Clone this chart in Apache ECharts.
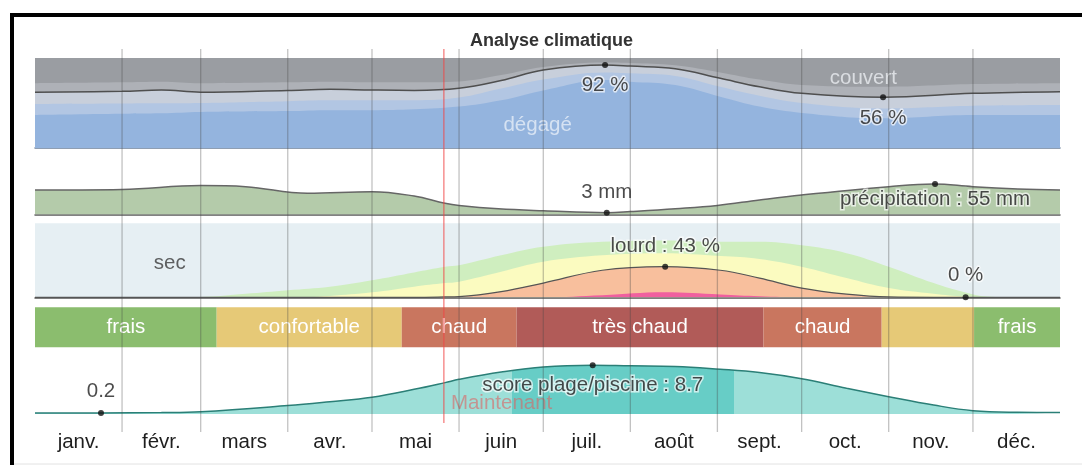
<!DOCTYPE html>
<html>
<head>
<meta charset="utf-8">
<title>Analyse climatique</title>
<script src="https://cdn.jsdelivr.net/npm/echarts@6/dist/echarts.min.js"></script>
<style>html,body{margin:0;padding:0;background:#fff;}</style>
</head>
<body>
<div id="main" style="width:1082px;height:465px;"></div>
<script>
// jours de l'année (0 = 1er janvier, 365 = 31 décembre)
var monthEnds = [31, 59, 90, 120, 151, 181, 212, 243, 273, 304, 334];
var monthMids = [15.5, 45, 74.5, 105, 135.5, 166, 196.5, 227.5, 258, 288.5, 319, 349.5];
var monthNames = ['janv.', 'févr.', 'mars', 'avr.', 'mai', 'juin', 'juil.', 'août', 'sept.', 'oct.', 'nov.', 'déc.'];
var today = 145.6;

// couverture nuageuse, parts cumulées depuis le bas (%)
var cloudDays     = [0, 31, 45, 59, 90, 105, 120, 135, 151, 166, 181, 203, 212, 228, 244, 258, 273, 302, 334, 365];
var clearPct      = [36.7, 38, 38.5, 40, 41, 42, 42, 43, 46, 53, 64, 75.6, 73.7, 70, 57, 46, 39, 33, 36.7, 36.7];
var mostlyClear   = [49, 49.5, 49.7, 50, 52, 53, 53, 53, 56, 66, 76, 84, 83, 80, 68, 58, 50, 44, 47, 47.8];
var partlyCloudy  = [62, 63, 64.4, 62, 64, 65.2, 64.4, 64, 66.3, 75, 86.7, 92.2, 91, 88, 77.4, 68, 60.7, 56.3, 60.7, 62.6];
var mostlyCloudy  = [72, 73, 73.7, 72, 73, 73.7, 73, 73, 74, 81, 90, 95, 94.5, 92, 84, 76, 70, 68, 71, 72];

// précipitations (mm)
var precipDays = [0, 31, 59, 75, 97, 120, 135, 146, 151, 165, 181, 204, 212, 228, 243, 258, 273, 304, 320, 334, 350, 365];
var precipMm   = [44, 45, 52, 50, 38, 41, 33, 20, 16, 10, 6.5, 3, 5, 10, 16, 26, 35, 50, 55, 50, 46, 44];

// humidité, parts cumulées depuis le bas (%)
var humDays    = [0, 59, 75, 90, 105, 120, 135, 146, 151, 166, 181, 202, 224, 244, 258, 273, 289, 304, 320, 331, 339, 350, 365];
var humMuggy   = [0, 0.5, 5, 10, 15, 24, 35, 43, 45, 59, 71, 78, 80, 78, 78, 73, 62, 43, 20, 7, 1, 0, 0];
var humHumid   = [0, 0, 0, 0, 2, 7, 15, 20, 22, 36, 50, 59, 62, 58, 54, 43, 27, 13, 5, 1, 0, 0, 0];
var humHeavy   = [0, 0, 0, 0, 0, 0, 0, 0.5, 1, 8, 20, 38, 43, 38, 27, 13, 4.5, 0.5, 0, 0, 0, 0, 0];
var humMisery  = [0, 0, 0, 0, 0, 0, 0, 0, 0, 0, 0, 3, 7, 4, 1.5, 0, 0, 0, 0, 0, 0, 0, 0];

// température ressentie
var tempStart = [0, 64.7, 130.6, 171.5, 259.4, 301.5, 334.4];
var tempEnd   = [64.7, 130.6, 171.5, 259.4, 301.5, 334.4, 365];
var tempCats  = ['frais', 'confortable', 'chaud', 'très chaud', 'chaud', 'confortable', 'frais'];

// score plage/piscine (0-10)
var scoreDays = [0, 23.5, 45, 59, 90, 105, 120, 135, 146, 151, 166, 181, 198.6, 212, 228, 244, 258, 273, 289, 304, 320, 334, 350, 365];
var score     = [0.2, 0.2, 0.25, 0.4, 1.5, 2.2, 3.0, 4.4, 5.6, 6.2, 7.5, 8.4, 8.7, 8.6, 8.5, 8.0, 7.4, 6.3, 4.6, 3.1, 1.6, 0.6, 0.3, 0.25];
var bestPeriod = [169.7, 249];

var FONT = '"Liberation Sans", Arial, sans-serif';
var FS = 20.5;
var tempColors = {'frais': '#8bbd6e', 'confortable': '#e6c977', 'chaud': '#c9765f', 'très chaud': '#b15b58'};

function zip(xs, ys) { return xs.map(function (x, i) { return [x, ys[i]]; }); }

// largeur d'un texte, pour ne l'afficher que s'il tient dans sa bande
var measureCtx = document.createElement('canvas').getContext('2d');
function textWidth(t) {
  measureCtx.font = FS + 'px ' + FONT;
  return measureCtx.measureText(t).width;
}

var chart = echarts.init(document.getElementById('main'));

var grids = [
  {left: 35, right: 22, top: 58, height: 90, show: true, backgroundColor: '#9a9da2', borderWidth: 0},
  {left: 35, right: 22, top: 169, height: 45.3},
  {left: 35, right: 22, top: 223.3, height: 74, show: true, backgroundColor: '#e6eff3', borderWidth: 0},
  {left: 35, right: 22, top: 307.3, height: 40},
  {left: 35, right: 22, top: 358, height: 56},
  {left: 35, right: 22, top: 49, height: 383},
  {left: 35, right: 22, top: 49, height: 374}
];
var yMax = [100, 82, 104, 1, 10, 1, 1];

var xAxes = grids.map(function (g, i) {
  return {type: 'value', gridIndex: i, min: 0, max: 365, show: false,
          axisLabel: {show: false}, axisTick: {show: false}, splitLine: {show: false}};
});
xAxes[0].show = true; xAxes[0].axisLine = {lineStyle: {color: '#6b7f99', width: 1.5}};
xAxes[1].show = true; xAxes[1].axisLine = {lineStyle: {color: '#5a5a5a', width: 1.5}};
xAxes[2].show = true; xAxes[2].axisLine = {lineStyle: {color: '#555', width: 1.5}};
xAxes[4].show = true;
xAxes[4].axisLine = {show: false};
xAxes[4].axisLabel = {
  show: true, customValues: monthMids, margin: 18,
  fontFamily: FONT, fontSize: FS, color: '#1e1e1e',
  formatter: function (v) { var i = monthMids.indexOf(v); return i >= 0 ? monthNames[i] : ''; }
};

var yAxes = grids.map(function (g, i) {
  return {type: 'value', gridIndex: i, min: 0, max: yMax[i], show: false, splitLine: {show: false}};
});

var labelStyle = {fontFamily: FONT, fontSize: FS, color: '#1e1e1e',
                  textBorderColor: 'rgba(255,255,255,0.85)', textBorderWidth: 3};

var series = [];
function area(grid, days, vals, color, z) {
  series.push({type: 'line', xAxisIndex: grid, yAxisIndex: grid, data: zip(days, vals),
    smooth: 0.4, symbol: 'none', lineStyle: {width: 0}, areaStyle: {color: color, opacity: 1},
    silent: true, z: z || 2});
}
function curve(grid, days, vals, color, width) {
  series.push({type: 'line', xAxisIndex: grid, yAxisIndex: grid, data: zip(days, vals),
    smooth: 0.4, symbol: 'none', lineStyle: {color: color, width: width}, silent: true, z: 4});
}
function mark(grid, pt, text, pos, dist) {
  series.push({type: 'scatter', xAxisIndex: grid, yAxisIndex: grid, data: [pt],
    symbolSize: 6, itemStyle: {color: '#111'}, z: 6,
    label: Object.assign({show: true, position: pos, distance: dist, formatter: text}, labelStyle)});
}
function note(grid, pt, text, style) {
  series.push({type: 'scatter', xAxisIndex: grid, yAxisIndex: grid, data: [pt],
    symbolSize: 0, z: 7, silent: true,
    label: Object.assign({show: true, position: 'inside', formatter: text, fontFamily: FONT, fontSize: FS}, style)});
}

// nuages
area(0, cloudDays, mostlyCloudy, '#aeb1b7');
area(0, cloudDays, partlyCloudy, '#c8cfdb');
area(0, cloudDays, mostlyClear, '#b2c6e3');
area(0, cloudDays, clearPct, '#94b4de');
curve(0, cloudDays, partlyCloudy, '#4f4f4f', 1.5);
mark(0, [203, 92.2], '92 %', 'bottom', 7);
mark(0, [302, 56.3], '56 %', 'bottom', 8);
note(0, [179, 25.6], 'dégagé', {color: 'rgba(238,243,250,0.92)'});
note(0, [295, 77.4], 'couvert', {color: 'rgba(238,241,245,0.95)'});

// précipitations
series.push({type: 'line', xAxisIndex: 1, yAxisIndex: 1, data: zip(precipDays, precipMm),
  smooth: 0.4, symbol: 'none', lineStyle: {color: '#666', width: 1.5},
  areaStyle: {color: '#b4cbaa', opacity: 1}, silent: true, z: 2});
mark(1, [203.6, 3], '3 mm', 'top', 7);
mark(1, [320.5, 55], 'précipitation : 55 mm', 'bottom', 2);

// humidité
area(2, humDays, humMuggy, '#cfeebf');
area(2, humDays, humHumid, '#fbfbc0');
area(2, humDays, humHeavy, '#f8bf9d');
area(2, humDays, humMisery, '#f0609f');
curve(2, humDays, humHeavy, '#555', 1.2);
mark(2, [224.4, 43], 'lourd : 43 %', 'top', 7);
mark(2, [331.4, 0], '0 %', 'top', 8);
note(2, [48, 47.8], 'sec', {color: '#3a3a3a'});

// température
series.push({type: 'custom', xAxisIndex: 3, yAxisIndex: 3, silent: true, z: 2,
  data: tempStart.map(function (s, i) { return [s, tempEnd[i]]; }),
  renderItem: function (params, api) {
    var a = api.coord([api.value(0), 1]);
    var b = api.coord([api.value(1), 0]);
    var cat = tempCats[params.dataIndex];
    var w = b[0] - a[0];
    var el = {type: 'rect', shape: {x: a[0], y: a[1], width: w, height: b[1] - a[1]},
              style: {fill: tempColors[cat]}};
    if (textWidth(cat) + 12 < w) {
      el.textContent = {style: {text: cat, fill: '#fff', fontFamily: FONT, fontSize: FS}};
      el.textConfig = {position: 'inside'};
    }
    return el;
  }});

// score plage/piscine
var scoreIdx = series.length;
series.push({type: 'line', xAxisIndex: 4, yAxisIndex: 4, data: zip(scoreDays, score),
  smooth: 0.4, symbol: 'none', lineStyle: {color: '#2b7f77', width: 1.5},
  areaStyle: {opacity: 1}, silent: true, z: 2});
mark(4, [23.5, 0.2], '0.2', 'top', 8);
mark(4, [198.6, 8.7], 'score plage/piscine : 8.7', 'bottom', 7);
note(4, [today, 1.9], 'Maintenant', {position: 'right', distance: 7, color: 'rgba(222,95,95,0.72)'});

// séparateurs de mois
series.push({type: 'custom', xAxisIndex: 5, yAxisIndex: 5, silent: true, z: 20,
  data: monthEnds.map(function (d) { return [d]; }),
  renderItem: function (params, api) {
    var p0 = api.coord([api.value(0), 0]), p1 = api.coord([api.value(0), 1]);
    return {type: 'line', shape: {x1: p0[0], y1: p0[1], x2: p1[0], y2: p1[1]},
            style: {stroke: 'rgba(70,70,70,0.33)', lineWidth: 1.3}};
  }});

// aujourd'hui
series.push({type: 'custom', xAxisIndex: 6, yAxisIndex: 6, silent: true, z: 21,
  data: [[today]],
  renderItem: function (params, api) {
    var p0 = api.coord([api.value(0), 0]), p1 = api.coord([api.value(0), 1]);
    return {type: 'line', shape: {x1: p0[0], y1: p0[1], x2: p1[0], y2: p1[1]},
            style: {stroke: 'rgba(240,70,70,0.75)', lineWidth: 1.2}};
  }});

var option = {
  animation: false,
  title: {text: 'Analyse climatique', left: 465, top: 27,
          textStyle: {fontFamily: FONT, fontSize: 18, fontWeight: 'bold', color: '#333'}},
  grid: grids,
  xAxis: xAxes,
  yAxis: yAxes,
  visualMap: [{type: 'piecewise', show: false, seriesIndex: scoreIdx, dimension: 0,
    pieces: [{lt: bestPeriod[0], color: '#9ddfd8'},
             {gte: bestPeriod[0], lt: bestPeriod[1], color: '#67cdc6'},
             {gte: bestPeriod[1], color: '#9ddfd8'}]}],
  graphic: [
    {type: 'rect', shape: {x: 10, y: 13, width: 1072, height: 4}, style: {fill: '#000'}},
    {type: 'rect', shape: {x: 10, y: 13, width: 4, height: 452}, style: {fill: '#000'}},
    {type: 'line', shape: {x1: 14, y1: 464, x2: 1082, y2: 464}, style: {stroke: '#e2e2e2'}}
  ],
  series: series
};
chart.setOption(option);
</script>
</body>
</html>
